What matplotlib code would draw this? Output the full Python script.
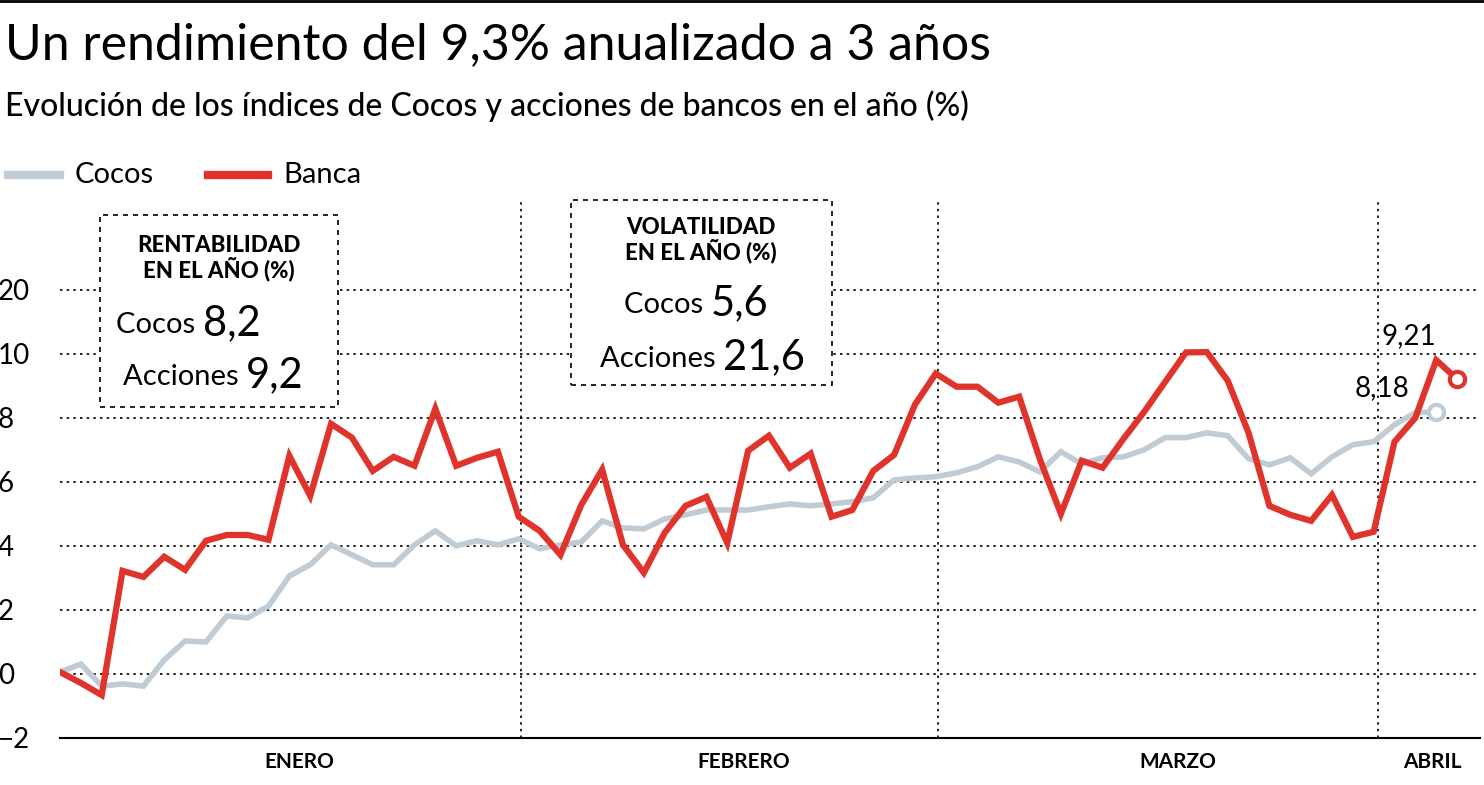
import matplotlib
matplotlib.use("Agg")
import matplotlib.pyplot as plt
import numpy as np
from matplotlib.patches import Rectangle
from matplotlib.lines import Line2D

plt.rcParams["font.family"] = "Lato"

banca = [0.06,-0.28,-0.66,3.22,3.03,3.66,3.25,4.16,4.34,4.34,
         4.19,6.81,5.56,7.81,7.38,6.34,6.78,6.5,8.28,6.5,
         6.75,6.94,4.91,4.47,3.72,5.28,6.38,4.03,3.16,4.41,
         5.25,5.53,4.09,6.97,7.44,6.44,6.88,4.91,5.12,6.34,
         6.84,8.41,9.38,8.97,8.97,8.47,8.66,6.69,5.0,6.66,
         6.44,7.34,8.19,9.12,10.2,10.25,9.16,7.53,5.25,4.97,
         4.78,5.59,4.28,4.44,7.25,8.0,9.8,9.21]
cocos = [0.06,0.31,-0.38,-0.31,-0.38,0.44,1.03,1.0,1.81,1.75,
         2.12,3.06,3.41,4.03,3.72,3.41,3.41,4.03,4.47,4.0,
         4.16,4.03,4.22,3.91,4.03,4.12,4.78,4.56,4.53,4.84,
         4.97,5.12,5.12,5.12,5.22,5.31,5.25,5.31,5.38,5.5,
         6.06,6.12,6.16,6.28,6.47,6.78,6.62,6.31,6.94,6.56,
         6.75,6.78,7.0,7.38,7.38,7.53,7.44,6.72,6.53,6.75,
         6.25,6.78,7.16,7.25,7.78,8.16,8.18]
yticks = [-2, 0, 2, 4, 6, 8, 10, 20]
months = ["ENERO", "FEBRERO", "MARZO", "ABRIL"]
month_pos = [11.5, 32.8, 53.6, 65.8]
month_bounds = [22.1, 42.1, 63.2]

RED = "#e0332b"
GREY = "#c0cbd3"

def fwd(v):
    v = np.asarray(v, dtype=float)
    return np.where(v <= 10, v, 10 + (v - 10) / 5)

def inv(v):
    v = np.asarray(v, dtype=float)
    return np.where(v <= 10, v, 10 + (v - 10) * 5)

fig = plt.figure(figsize=(14.84, 7.85), dpi=100)
ax = fig.add_axes([60/1484, 47/785, 1420/1484, 538/785])
ax.set_yscale("function", functions=(fwd, inv))
ax.set_ylim(-2, 34)
ax.set_xlim(0, 68.1)

for t in yticks[1:]:
    ax.axhline(t, color="black", lw=1.2, ls=(0, (1.5, 2.5)), zorder=1)
for b in month_bounds:
    ax.axvline(b, color="black", lw=1.2, ls=(0, (1.5, 2.5)), zorder=1)

ax.plot(range(len(cocos)), cocos, color=GREY, lw=4, zorder=3, solid_joinstyle="miter")
ax.plot(range(len(banca)), banca, color=RED, lw=4.5, zorder=4, solid_joinstyle="miter")
ax.plot(len(cocos)-1, cocos[-1], "o", ms=11, mfc="white", mec=GREY, mew=3, zorder=5)
ax.plot(len(banca)-1, banca[-1], "o", ms=11, mfc="white", mec=RED, mew=3, zorder=5)
ax.text(len(cocos)-2.3, cocos[-1]+0.35, "8,18", fontsize=20, ha="right", va="bottom")
ax.text(len(banca)-3.3, 10.7, "9,21", fontsize=20, ha="center", va="bottom")

for s in ["top", "right", "left"]:
    ax.spines[s].set_visible(False)
ax.spines["bottom"].set_linewidth(1.5)
ax.set_yticks(yticks)
ax.set_yticklabels([str(t).replace("-", "\u2212") for t in yticks], fontsize=20)
ax.tick_params(axis="y", length=0, pad=14)
for lab in ax.get_yticklabels():
    lab.set_horizontalalignment("left")
    lab.set_x(-0.03)
ax.set_xticks(month_pos)
ax.set_xticklabels(months, fontsize=15, fontweight="bold")
ax.tick_params(axis="x", length=0, pad=10)

fig.add_artist(Line2D([0, 1], [1-1/785, 1-1/785], transform=fig.transFigure, color="black", lw=2))
fig.text(5/1484, 1-45/785, "Un rendimiento del 9,3% anualizado a 3 años", fontsize=36,
         va="center")
fig.text(5/1484, 1-106/785, "Evolución de los índices de Cocos y acciones de bancos en el año (%)",
         fontsize=23, fontweight="medium", va="center")
fig.add_artist(Line2D([8/1484, 60/1484], [1-175/785]*2, transform=fig.transFigure, color=GREY, lw=6))
fig.text(75/1484, 1-175/785, "Cocos", fontsize=21, va="center")
fig.add_artist(Line2D([208/1484, 268/1484], [1-175/785]*2, transform=fig.transFigure, color=RED, lw=6))
fig.text(283/1484, 1-175/785, "Banca", fontsize=21, va="center")

def box(x0, y0, x1, y1):
    fig.add_artist(Rectangle((x0/1484, 1-y1/785), (x1-x0)/1484, (y1-y0)/785,
                             transform=fig.transFigure, fill=True, fc="white",
                             ec="black", lw=1.2, ls=(0, (3, 3)), zorder=10))

box(100, 215, 338, 407)
fig.text(219/1484, 1-258/785, "RENTABILIDAD\nEN EL AÑO (%)", fontsize=16, fontweight="black",
         ha="center", va="center", linespacing=1.05, zorder=11)
fig.text(203/1484, 1-325/785, "Cocos ", fontsize=21, ha="right", va="center", zorder=11)
fig.text(203/1484, 1-323/785, "8,2", fontsize=30, ha="left", va="center", zorder=11)
fig.text(246/1484, 1-377/785, "Acciones ", fontsize=21, ha="right", va="center", zorder=11)
fig.text(246/1484, 1-375/785, "9,2", fontsize=30, ha="left", va="center", zorder=11)

box(571, 200, 832, 385)
fig.text(701/1484, 1-240/785, "VOLATILIDAD\nEN EL AÑO (%)", fontsize=16, fontweight="black",
         ha="center", va="center", linespacing=1.05, zorder=11)
fig.text(711/1484, 1-305/785, "Cocos ", fontsize=21, ha="right", va="center", zorder=11)
fig.text(711/1484, 1-303/785, "5,6", fontsize=30, ha="left", va="center", zorder=11)
fig.text(723/1484, 1-359/785, "Acciones ", fontsize=21, ha="right", va="center", zorder=11)
fig.text(723/1484, 1-357/785, "21,6", fontsize=30, ha="left", va="center", zorder=11)

fig.savefig("out.png", dpi=100)
